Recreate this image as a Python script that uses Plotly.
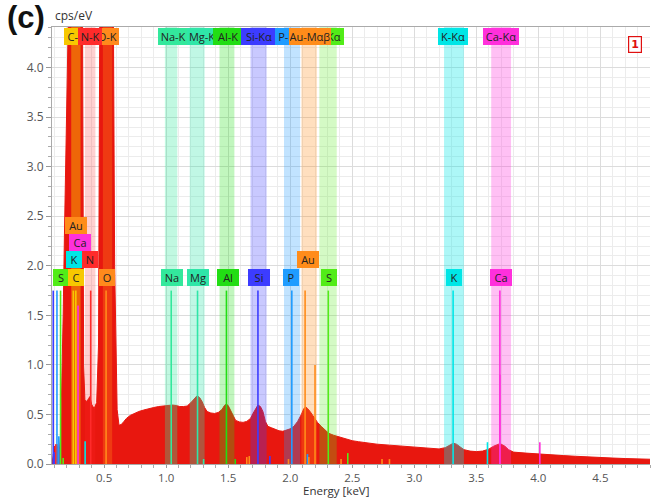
import plotly.graph_objects as go

# ---------------- data ----------------
energy_kev = [0.08, 0.09, 0.10, 0.11, 0.12, 0.13, 0.14, 0.15, 0.16, 0.17, 0.18, 0.19, 0.20, 0.21,
              0.24, 0.28, 0.31, 0.325, 0.33, 0.335, 0.345, 0.36, 0.375, 0.385, 0.40, 0.42, 0.44,
              0.455, 0.465, 0.48, 0.52, 0.555, 0.575, 0.585, 0.595, 0.605, 0.62, 0.64, 0.66, 0.68,
              0.71, 0.74, 0.78, 0.82, 0.86, 0.90, 0.94, 0.98, 1.02, 1.05, 1.08, 1.11, 1.14, 1.17,
              1.20, 1.23, 1.25, 1.27, 1.29, 1.31, 1.33, 1.36, 1.39, 1.42, 1.45, 1.47, 1.485, 1.50,
              1.52, 1.54, 1.56, 1.59, 1.62, 1.65, 1.68, 1.70, 1.72, 1.74, 1.76, 1.78, 1.80, 1.82,
              1.85, 1.88, 1.91, 1.94, 1.97, 2.00, 2.03, 2.06, 2.09, 2.11, 2.125, 2.14, 2.16, 2.18,
              2.20, 2.22, 2.25, 2.28, 2.31, 2.35, 2.40, 2.45, 2.50, 2.55, 2.60, 2.70, 2.80, 2.90,
              3.00, 3.10, 3.20, 3.25, 3.29, 3.315, 3.34, 3.37, 3.40, 3.45, 3.50, 3.55, 3.60, 3.64,
              3.68, 3.70, 3.73, 3.76, 3.80, 3.90, 4.00, 4.10, 4.20, 4.30, 4.40, 4.50, 4.60, 4.70,
              4.80, 4.90]
cps_per_ev = [0.0, 0.12, 0.18, 0.15, 0.20, 0.12, 0.15, 0.30, 0.80, 1.50, 2.30, 3.10, 4.00, 5.00,
              6.50, 7.00, 6.00, 5.00, 2.50, 1.00, 0.65, 0.63, 0.66, 0.68, 0.60, 0.56, 0.62,
              1.20, 4.50, 6.00, 7.00, 6.00, 4.50, 2.00, 1.00, 0.55, 0.39, 0.40, 0.43, 0.46,
              0.49, 0.51, 0.53, 0.545, 0.56, 0.57, 0.58, 0.586, 0.59, 0.595, 0.59, 0.58, 0.58, 0.585,
              0.62, 0.665, 0.69, 0.67, 0.63, 0.57, 0.53, 0.515, 0.51, 0.52, 0.55, 0.59, 0.605, 0.59,
              0.54, 0.48, 0.44, 0.425, 0.42, 0.43, 0.46, 0.51, 0.56, 0.595, 0.58, 0.53, 0.43, 0.38,
              0.365, 0.35, 0.335, 0.33, 0.34, 0.355, 0.38, 0.43, 0.50, 0.56, 0.575, 0.56, 0.53, 0.49,
              0.45, 0.42, 0.38, 0.34, 0.31, 0.29, 0.27, 0.25, 0.235, 0.225, 0.215, 0.20, 0.19, 0.18,
              0.165, 0.158, 0.152, 0.165, 0.195, 0.21, 0.20, 0.17, 0.145, 0.13, 0.125, 0.13, 0.15, 0.18,
              0.20, 0.20, 0.18, 0.145, 0.12, 0.11, 0.10, 0.09, 0.085, 0.078, 0.07, 0.065, 0.06, 0.055,
              0.05, 0.048]

# element colours
elem_color = {
    "C": "#f7c800", "N": "#ff2b2b", "O": "#ff8a1c", "Na": "#33e89c", "Mg": "#2fe6a8",
    "Al": "#22dd14", "Si": "#3c3cff", "P": "#1f9cff", "Au": "#ff8c1a", "S": "#52ec18",
    "K": "#00e6e6", "Ca": "#ff30dc",
}

# shaded line windows (keV)
band_elem = ["C", "N", "O", "Na", "Mg", "Al", "Si", "P", "Au", "S", "K", "Ca"]
band_lo = [0.235, 0.345, 0.49, 0.99, 1.19, 1.43, 1.68, 1.95, 2.09, 2.235, 3.24, 3.62]
band_hi = [0.31, 0.43, 0.565, 1.09, 1.31, 1.55, 1.81, 2.08, 2.215, 2.375, 3.40, 3.78]
band_alpha = [0.45, 0.22, 0.30, 0.30, 0.30, 0.28, 0.28, 0.28, 0.28, 0.25, 0.32, 0.30]

# top row labels (drawn in this order)
top_text = ["C-K", "O-K", "N-K", "Na-K", "Mg-K", "Al-K", "Si-Kα", "P-Kα", "S-Kα", "Au-Mαβ", "K-Kα", "Ca-Kα"]
top_elem = ["C", "O", "N", "Na", "Mg", "Al", "Si", "P", "S", "Au", "K", "Ca"]
top_x = [0.277, 0.525, 0.383, 1.056, 1.285, 1.50, 1.745, 2.00, 2.31, 2.157, 3.31, 3.70]

# lower labels
low_text = ["S", "C", "O", "Na", "Mg", "Al", "Si", "P", "S", "K", "Ca", "K", "N", "Ca", "Au", "Au"]
low_elem = ["S", "C", "O", "Na", "Mg", "Al", "Si", "P", "S", "K", "Ca", "K", "N", "Ca", "Au", "Au"]
low_x = [0.149, 0.274, 0.524, 1.05, 1.26, 1.50, 1.75, 2.01, 2.31, 3.32, 3.70, 0.258, 0.383, 0.306, 0.27, 2.14]
low_y = [1.88, 1.88, 1.88, 1.88, 1.88, 1.88, 1.88, 1.88, 1.88, 1.88, 1.88, 2.06, 2.06, 2.24, 2.41, 2.06]

# marker lines (keV, height cps/eV)
stem_elem = ["Si", "P", "S", "C", "C", "Ca", "N", "O", "Na", "Mg", "Al", "Si", "P", "Au", "Au", "S",
             "K", "Ca", "Ca", "K", "Ca", "Mg", "Al", "Au", "Au", "Si", "Au", "P", "Au", "S", "Au",
             "Au", "Au", "Si", "N", "P", "S", "K"]
stem_x = [0.09, 0.12, 0.149, 0.252, 0.272, 0.29, 0.392, 0.516, 1.041, 1.253, 1.486, 1.74, 2.013, 2.12,
          2.20, 2.307, 3.313, 3.69, 3.69, 3.59, 4.012, 1.302, 1.557, 1.65, 1.67, 1.836, 1.986, 2.139,
          2.15, 2.464, 2.41, 2.74, 2.80, 0.10, 0.11, 0.135, 0.17, 0.347]
stem_h = [1.75, 1.75, 1.75, 1.75, 1.75, 1.60, 1.75, 1.75, 1.75, 1.75, 1.75, 1.75, 1.75, 1.75,
          1.00, 1.75, 1.75, 1.75, 0.90, 0.22, 0.22, 0.05, 0.05, 0.07, 0.08, 0.08, 0.05, 0.10,
          0.07, 0.11, 0.05, 0.05, 0.05, 0.12, 0.20, 0.28, 0.06, 0.23]

Y_TOP = 4.41
X_RANGE = [0.08, 4.90]


def rgba(hexc, a):
    h = hexc.lstrip("#")
    r, g, b = int(h[0:2], 16), int(h[2:4], 16), int(h[4:6], 16)
    return f"rgba({r},{g},{b},{a})"


fig = go.Figure()

# spectrum
fig.add_trace(go.Scatter(x=energy_kev, y=cps_per_ev, mode="lines", fill="tozeroy",
                         line=dict(color="#e8170f", width=1), fillcolor="#e8170f",
                         hoverinfo="skip", showlegend=False))

# bands
for e, lo, hi, a in zip(band_elem, band_lo, band_hi, band_alpha):
    fig.add_trace(go.Scatter(x=[lo, hi, hi, lo, lo], y=[0, 0, Y_TOP, Y_TOP, 0], mode="lines",
                             fill="toself", fillcolor=rgba(elem_color[e], a),
                             line=dict(width=0), hoverinfo="skip", showlegend=False))

# marker lines
for e, x, h in zip(stem_elem, stem_x, stem_h):
    fig.add_trace(go.Scatter(x=[x, x], y=[0, h], mode="lines",
                             line=dict(color=elem_color[e], width=1.6),
                             hoverinfo="skip", showlegend=False))

LABEL_FONT = dict(family="Open Sans, DejaVu Sans, sans-serif", size=11, color="#222")

annotations = []
for t, e, x in zip(top_text, top_elem, top_x):
    annotations.append(dict(x=x, xref="x", y=1, yref="paper", yanchor="top", yshift=-1,
                            text=t, showarrow=False, font=LABEL_FONT, bgcolor=elem_color[e],
                            borderpad=1, borderwidth=0, width=len(t) * 5.8 + 5))
for t, e, x, y in zip(low_text, low_elem, low_x, low_y):
    annotations.append(dict(x=x, xref="x", y=y, yref="y", yanchor="middle",
                            text=t, showarrow=False, font=LABEL_FONT, bgcolor=elem_color[e],
                            borderpad=1, borderwidth=0, width=len(t) * 6 + 8))

annotations += [
    dict(x=-47 / 598, xref="paper", xanchor="left", y=(464 - 18) / 437, yref="paper",
         yanchor="middle", text="<b>(c)</b>", showarrow=False,
         font=dict(family="Liberation Sans, Arial, sans-serif", size=31, color="#111")),
    dict(x=1 / 598, xref="paper", xanchor="left", y=(464 - 15) / 437, yref="paper",
         yanchor="middle", text="cps/eV", showarrow=False,
         font=dict(family="Open Sans, DejaVu Sans, sans-serif", size=12, color="#333")),
    dict(x=(336 - 52) / 598, xref="paper", xanchor="center", y=-(490 - 464) / 437, yref="paper",
         yanchor="middle", text="Energy [keV]", showarrow=False,
         font=dict(family="Open Sans, DejaVu Sans, sans-serif", size=11.5, color="#333")),
    dict(x=(634.5 - 52) / 598, xref="paper", xanchor="center", y=(464 - 45) / 437, yref="paper",
         yanchor="middle", text="<b>1</b>", showarrow=False, bgcolor="white",
         bordercolor="#e01010", borderwidth=1.2, borderpad=1, width=10,
         font=dict(family="DejaVu Sans, sans-serif", size=11, color="#e01010")),
]

TICK_FONT = dict(family="Open Sans, DejaVu Sans, sans-serif", size=12, color="#555")

fig.update_layout(
    width=651, height=499,
    margin=dict(l=52, r=1, t=27, b=35, autoexpand=False),
    paper_bgcolor="white", plot_bgcolor="white",
    showlegend=False,
    annotations=annotations,
    xaxis=dict(range=X_RANGE, tick0=0, dtick=0.5, tickformat=".1f",
               showgrid=True, gridcolor="#dcdcdc", gridwidth=1,
               ticks="outside", ticklen=3, tickcolor="#999",
               showline=True, linecolor="#aaa", mirror=True,
               zeroline=False, tickfont=dict(TICK_FONT, size=11.5), automargin=False,
               minor=dict(dtick=0.1, tick0=0, showgrid=True, gridcolor="#ececec",
                          ticks="outside", ticklen=3, tickcolor="#aaa")),
    yaxis=dict(range=[0, Y_TOP], tick0=0, dtick=0.5, tickformat=".1f",
               showgrid=True, gridcolor="#dcdcdc", gridwidth=1,
               ticks="outside", ticklen=5, tickcolor="#999",
               showline=True, linecolor="#aaa",
               zeroline=False, tickfont=TICK_FONT, automargin=False,
               minor=dict(dtick=0.1, tick0=0, showgrid=True, gridcolor="#ececec",
                          ticks="outside", ticklen=3, tickcolor="#aaa")),
)

fig.write_html("out.html", config={"displayModeBar": False},
               post_script="document.body.style.margin='0';")
